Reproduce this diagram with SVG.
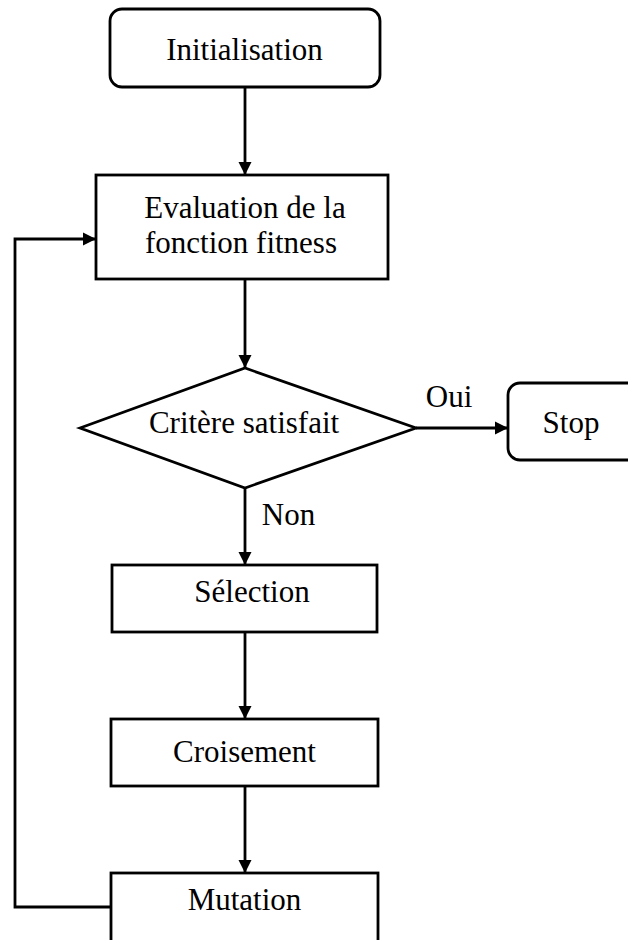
<svg xmlns="http://www.w3.org/2000/svg" width="628" height="940" viewBox="0 0 628 940">
<defs>
<marker id="ah" markerUnits="userSpaceOnUse" markerWidth="14" markerHeight="14" refX="13" refY="7" orient="auto">
<path d="M0,0.5 L13,7 L0,13.5 Z" fill="#000"/>
</marker>
<style>
.box{fill:#fff;stroke:#000;stroke-width:2.8}
.ln{fill:none;stroke:#000;stroke-width:2.8}
.t{font-family:"Liberation Serif","Times New Roman",serif;font-size:31px;fill:#000;text-anchor:middle}
</style>
</defs>
<rect width="628" height="940" fill="#fff"/>
<g id="connectors">
<line class="ln" x1="245" y1="87" x2="245" y2="175" marker-end="url(#ah)"/>
<line class="ln" x1="245" y1="279" x2="245" y2="368" marker-end="url(#ah)"/>
<line class="ln" x1="416" y1="428" x2="508" y2="428" marker-end="url(#ah)"/>
<line class="ln" x1="245" y1="488" x2="245" y2="565" marker-end="url(#ah)"/>
<line class="ln" x1="245" y1="632" x2="245" y2="719" marker-end="url(#ah)"/>
<line class="ln" x1="245" y1="786" x2="245" y2="873" marker-end="url(#ah)"/>
<polyline class="ln" points="111,907 15,907 15,239 96,239" marker-end="url(#ah)"/>
<text class="t" x="449" y="407">Oui</text>
<text class="t" x="288.5" y="525">Non</text>
</g>
<g id="init">
<rect class="box" x="110" y="9" width="270" height="78" rx="12"/>
<text class="t" x="244.5" y="60">Initialisation</text>
</g>
<g id="eval">
<rect class="box" x="96" y="175" width="292" height="104"/>
<text class="t" x="245" y="218">Evaluation de la</text>
<text class="t" x="241" y="253">fonction fitness</text>
</g>
<g id="critere">
<polygon class="box" points="80,428 245,368 416,428 245,488"/>
<text class="t" x="244" y="433">Critère satisfait</text>
</g>
<g id="stop">
<rect class="box" x="508" y="383" width="140" height="77" rx="12"/>
<text class="t" x="571" y="433">Stop</text>
</g>
<g id="selection">
<rect class="box" x="112" y="565" width="265" height="67"/>
<text class="t" x="252" y="602">Sélection</text>
</g>
<g id="croisement">
<rect class="box" x="111" y="719" width="267" height="67"/>
<text class="t" x="244.5" y="762">Croisement</text>
</g>
<g id="mutation">
<rect class="box" x="111" y="873" width="267" height="80"/>
<text class="t" x="244.5" y="910">Mutation</text>
</g>
</svg>
